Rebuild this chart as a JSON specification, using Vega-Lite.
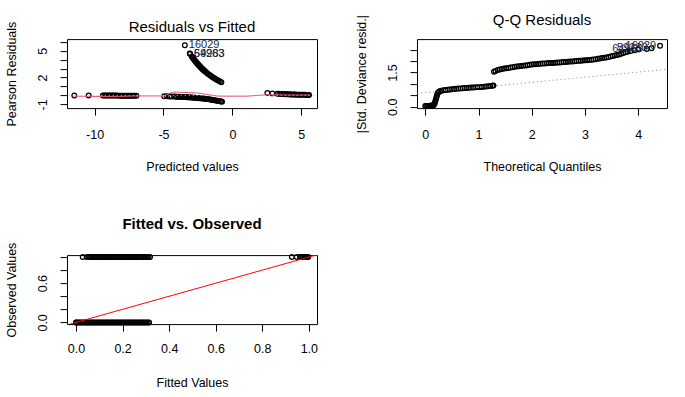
{
  "$schema": "https://vega.github.io/schema/vega-lite/v6.json",
  "background": "white",
  "padding": {"left": 4, "top": 12.1, "right": 5, "bottom": 5},
  "columns": 2,
  "bounds": "flush",
  "spacing": {"row": 147, "column": 100},
  "datasets": {
    "rf": [
      {"x": -11.47, "y": -0.003}, {"x": -10.43, "y": -0.005}, {"x": -9.4, "y": -0.009}, {"x": -9.3, "y": -0.01}, {"x": -9.2, "y": -0.01}, {"x": -9.1, "y": -0.011}, {"x": -9.0, "y": -0.011}, {"x": -8.9, "y": -0.012}, {"x": -8.8, "y": -0.012}, {"x": -8.7, "y": -0.013}, {"x": -8.6, "y": -0.014}, {"x": -8.5, "y": -0.014}, {"x": -8.4, "y": -0.015}, {"x": -8.3, "y": -0.016}, {"x": -8.2, "y": -0.017}, {"x": -8.1, "y": -0.017}, {"x": -8.0, "y": -0.018}, {"x": -7.9, "y": -0.019}, {"x": -7.8, "y": -0.02}, {"x": -7.7, "y": -0.021}, {"x": -7.6, "y": -0.022}, {"x": -7.5, "y": -0.024}, {"x": -7.4, "y": -0.025}, {"x": -7.3, "y": -0.026}, {"x": -7.2, "y": -0.027}, {"x": -7.1, "y": -0.029}, {"x": -6.96, "y": -0.031},
      {"x": -4.95, "y": -0.084}, {"x": -4.75, "y": -0.093}, {"x": -4.55, "y": -0.103}, {"x": -4.4, "y": -0.111}, {"x": -4.2, "y": -0.122}, {"x": -4.1, "y": -0.129}, {"x": -4.0, "y": -0.135}, {"x": -3.9, "y": -0.142}, {"x": -3.8, "y": -0.15}, {"x": -3.7, "y": -0.157}, {"x": -3.6, "y": -0.165}, {"x": -3.5, "y": -0.174}, {"x": -3.4, "y": -0.183}, {"x": -3.3, "y": -0.192}, {"x": -3.2, "y": -0.202}, {"x": -3.1, "y": -0.212}, {"x": -3.0, "y": -0.223}, {"x": -2.9, "y": -0.235}, {"x": -2.8, "y": -0.247}, {"x": -2.7, "y": -0.259}, {"x": -2.6, "y": -0.273}, {"x": -2.5, "y": -0.287}, {"x": -2.4, "y": -0.301}, {"x": -2.3, "y": -0.317}, {"x": -2.2, "y": -0.333}, {"x": -2.1, "y": -0.35}, {"x": -2.0, "y": -0.368}, {"x": -1.9, "y": -0.387}, {"x": -1.8, "y": -0.407}, {"x": -1.7, "y": -0.427}, {"x": -1.6, "y": -0.449}, {"x": -1.5, "y": -0.472}, {"x": -1.4, "y": -0.497}, {"x": -1.3, "y": -0.522}, {"x": -1.2, "y": -0.549}, {"x": -1.1, "y": -0.577}, {"x": -1.0, "y": -0.607}, {"x": -0.9, "y": -0.638}, {"x": -0.8, "y": -0.67}, {"x": -0.75, "y": -0.687},
      {"x": -3.45, "y": 5.61}, {"x": -3.09, "y": 4.69}, {"x": -3.07, "y": 4.65}, {"x": -2.95, "y": 4.37}, {"x": -2.9, "y": 4.26}, {"x": -2.85, "y": 4.16}, {"x": -2.8, "y": 4.06}, {"x": -2.75, "y": 3.96}, {"x": -2.7, "y": 3.86}, {"x": -2.65, "y": 3.77}, {"x": -2.6, "y": 3.67}, {"x": -2.55, "y": 3.58}, {"x": -2.5, "y": 3.49}, {"x": -2.45, "y": 3.4}, {"x": -2.4, "y": 3.32}, {"x": -2.35, "y": 3.24}, {"x": -2.3, "y": 3.16}, {"x": -2.25, "y": 3.08}, {"x": -2.2, "y": 3.0}, {"x": -2.15, "y": 2.93}, {"x": -2.1, "y": 2.86}, {"x": -2.05, "y": 2.79}, {"x": -2.0, "y": 2.72}, {"x": -1.9, "y": 2.59}, {"x": -1.8, "y": 2.46}, {"x": -1.7, "y": 2.34}, {"x": -1.6, "y": 2.23}, {"x": -1.5, "y": 2.12}, {"x": -1.4, "y": 2.01}, {"x": -1.3, "y": 1.92}, {"x": -1.2, "y": 1.82}, {"x": -1.1, "y": 1.73}, {"x": -1.0, "y": 1.65}, {"x": -0.9, "y": 1.57}, {"x": -0.8, "y": 1.49},
      {"x": 2.54, "y": 0.281}, {"x": 2.9, "y": 0.235}, {"x": 3.26, "y": 0.196}, {"x": 3.4, "y": 0.183}, {"x": 3.5, "y": 0.174}, {"x": 3.6, "y": 0.165}, {"x": 3.7, "y": 0.157}, {"x": 3.8, "y": 0.15}, {"x": 3.9, "y": 0.142}, {"x": 4.0, "y": 0.135}, {"x": 4.1, "y": 0.129}, {"x": 4.2, "y": 0.122}, {"x": 4.3, "y": 0.117}, {"x": 4.4, "y": 0.111}, {"x": 4.5, "y": 0.105}, {"x": 4.6, "y": 0.1}, {"x": 4.7, "y": 0.095}, {"x": 4.8, "y": 0.091}, {"x": 4.9, "y": 0.086}, {"x": 5.0, "y": 0.082}, {"x": 5.1, "y": 0.078}, {"x": 5.2, "y": 0.074}, {"x": 5.3, "y": 0.071}, {"x": 5.4, "y": 0.067}, {"x": 5.5, "y": 0.064}, {"x": 5.56, "y": 0.062}
    ],
    "rfsmooth": [
      {"x": -11.47, "y": -0.08}, {"x": -10.43, "y": -0.09}, {"x": -9.4, "y": -0.12}, {"x": -8.2, "y": -0.11}, {"x": -7.0, "y": -0.05}, {"x": -4.95, "y": -0.05}, {"x": -4.6, "y": 0.2}, {"x": -4.3, "y": 0.38}, {"x": -4.0, "y": 0.37}, {"x": -3.5, "y": 0.34}, {"x": -3.0, "y": 0.31}, {"x": -2.5, "y": 0.27}, {"x": -2.0, "y": 0.16}, {"x": -1.5, "y": 0.02}, {"x": -1.0, "y": -0.07}, {"x": 0.0, "y": -0.08}, {"x": 1.0, "y": -0.08}, {"x": 1.5, "y": -0.03}, {"x": 2.0, "y": 0.03}, {"x": 2.54, "y": 0.08}, {"x": 3.5, "y": 0.07}, {"x": 4.5, "y": 0.06}, {"x": 5.56, "y": 0.06}
    ],
    "rfzero": [{"x": -20, "y": 0}, {"x": 20, "y": 0}],
    "rflab": [
      {"x": -3.45, "y": 5.61, "t": "16029"}, {"x": -3.09, "y": 4.69, "t": "64963"}, {"x": -3.07, "y": 4.65, "t": "59283"}
    ],
    "qq": [
      {"x": 0, "y": 0.03}, {"x": 0.02, "y": 0.03}, {"x": 0.04, "y": 0.04}, {"x": 0.06, "y": 0.04}, {"x": 0.08, "y": 0.05}, {"x": 0.1, "y": 0.05}, {"x": 0.12, "y": 0.06}, {"x": 0.14, "y": 0.06}, {"x": 0.16, "y": 0.08}, {"x": 0.17, "y": 0.12}, {"x": 0.18, "y": 0.18}, {"x": 0.19, "y": 0.26}, {"x": 0.2, "y": 0.34}, {"x": 0.21, "y": 0.42}, {"x": 0.22, "y": 0.5}, {"x": 0.23, "y": 0.57}, {"x": 0.24, "y": 0.62}, {"x": 0.26, "y": 0.66}, {"x": 0.28, "y": 0.69}, {"x": 0.3, "y": 0.7}, {"x": 0.34, "y": 0.72}, {"x": 0.38, "y": 0.73}, {"x": 0.42, "y": 0.75}, {"x": 0.46, "y": 0.76}, {"x": 0.5, "y": 0.77}, {"x": 0.54, "y": 0.78}, {"x": 0.58, "y": 0.79}, {"x": 0.62, "y": 0.8}, {"x": 0.66, "y": 0.8}, {"x": 0.7, "y": 0.81}, {"x": 0.74, "y": 0.82}, {"x": 0.78, "y": 0.82}, {"x": 0.82, "y": 0.83}, {"x": 0.86, "y": 0.84}, {"x": 0.9, "y": 0.84}, {"x": 0.94, "y": 0.85}, {"x": 0.98, "y": 0.86}, {"x": 1.02, "y": 0.86}, {"x": 1.06, "y": 0.87}, {"x": 1.1, "y": 0.88}, {"x": 1.14, "y": 0.89}, {"x": 1.18, "y": 0.9}, {"x": 1.22, "y": 0.91}, {"x": 1.26, "y": 0.92}, {"x": 1.28, "y": 0.93},
      {"x": 1.29, "y": 1.53}, {"x": 1.32, "y": 1.57}, {"x": 1.36, "y": 1.61}, {"x": 1.4, "y": 1.63}, {"x": 1.44, "y": 1.65}, {"x": 1.48, "y": 1.67}, {"x": 1.52, "y": 1.69}, {"x": 1.56, "y": 1.7}, {"x": 1.6, "y": 1.72}, {"x": 1.64, "y": 1.73}, {"x": 1.68, "y": 1.75}, {"x": 1.72, "y": 1.76}, {"x": 1.76, "y": 1.77}, {"x": 1.8, "y": 1.78}, {"x": 1.84, "y": 1.8}, {"x": 1.88, "y": 1.81}, {"x": 1.92, "y": 1.82}, {"x": 1.96, "y": 1.84}, {"x": 2.0, "y": 1.85}, {"x": 2.04, "y": 1.86}, {"x": 2.08, "y": 1.86}, {"x": 2.12, "y": 1.87}, {"x": 2.16, "y": 1.88}, {"x": 2.2, "y": 1.89}, {"x": 2.24, "y": 1.89}, {"x": 2.28, "y": 1.9}, {"x": 2.32, "y": 1.91}, {"x": 2.36, "y": 1.91}, {"x": 2.4, "y": 1.92}, {"x": 2.44, "y": 1.93}, {"x": 2.48, "y": 1.94}, {"x": 2.52, "y": 1.94}, {"x": 2.56, "y": 1.95}, {"x": 2.6, "y": 1.96}, {"x": 2.64, "y": 1.96}, {"x": 2.68, "y": 1.97}, {"x": 2.72, "y": 1.98}, {"x": 2.76, "y": 1.98}, {"x": 2.8, "y": 1.99}, {"x": 2.84, "y": 2.0}, {"x": 2.88, "y": 2.01}, {"x": 2.92, "y": 2.01}, {"x": 2.96, "y": 2.02}, {"x": 3.0, "y": 2.03}, {"x": 3.04, "y": 2.04}, {"x": 3.08, "y": 2.05}, {"x": 3.12, "y": 2.06}, {"x": 3.16, "y": 2.07}, {"x": 3.2, "y": 2.08}, {"x": 3.24, "y": 2.1}, {"x": 3.28, "y": 2.11}, {"x": 3.32, "y": 2.13}, {"x": 3.36, "y": 2.14}, {"x": 3.4, "y": 2.16}, {"x": 3.44, "y": 2.18}, {"x": 3.48, "y": 2.2}, {"x": 3.52, "y": 2.22}, {"x": 3.56, "y": 2.24}, {"x": 3.6, "y": 2.26}, {"x": 3.64, "y": 2.29}, {"x": 3.68, "y": 2.32}, {"x": 3.72, "y": 2.35}, {"x": 3.76, "y": 2.38}, {"x": 3.8, "y": 2.41}, {"x": 3.86, "y": 2.44}, {"x": 3.93, "y": 2.47}, {"x": 4.0, "y": 2.5}, {"x": 4.16, "y": 2.53}, {"x": 4.25, "y": 2.56}, {"x": 4.41, "y": 2.67}
    ],
    "qqline": [{"x": -0.3, "y": 0.555}, {"x": 4.7, "y": 1.674}],
    "qqlab": [
      {"x": 4.16, "y": 2.53, "t": "64963"}, {"x": 4.25, "y": 2.56, "t": "59283"}, {"x": 4.41, "y": 2.67, "t": "16029"}
    ],
    "fo": [
      {"x": 0.0, "y": 0}, {"x": 0.002, "y": 0}, {"x": 0.008, "y": 0}, {"x": 0.014, "y": 0}, {"x": 0.02, "y": 0}, {"x": 0.026, "y": 0}, {"x": 0.032, "y": 0}, {"x": 0.038, "y": 0}, {"x": 0.044, "y": 0}, {"x": 0.05, "y": 0}, {"x": 0.056, "y": 0}, {"x": 0.062, "y": 0}, {"x": 0.068, "y": 0}, {"x": 0.074, "y": 0}, {"x": 0.08, "y": 0}, {"x": 0.086, "y": 0}, {"x": 0.092, "y": 0}, {"x": 0.098, "y": 0}, {"x": 0.104, "y": 0}, {"x": 0.11, "y": 0}, {"x": 0.116, "y": 0}, {"x": 0.122, "y": 0}, {"x": 0.128, "y": 0}, {"x": 0.134, "y": 0}, {"x": 0.14, "y": 0}, {"x": 0.146, "y": 0}, {"x": 0.152, "y": 0}, {"x": 0.158, "y": 0}, {"x": 0.164, "y": 0}, {"x": 0.17, "y": 0}, {"x": 0.176, "y": 0}, {"x": 0.182, "y": 0}, {"x": 0.188, "y": 0}, {"x": 0.194, "y": 0}, {"x": 0.2, "y": 0}, {"x": 0.206, "y": 0}, {"x": 0.212, "y": 0}, {"x": 0.218, "y": 0}, {"x": 0.224, "y": 0}, {"x": 0.23, "y": 0}, {"x": 0.236, "y": 0}, {"x": 0.242, "y": 0}, {"x": 0.248, "y": 0}, {"x": 0.254, "y": 0}, {"x": 0.26, "y": 0}, {"x": 0.266, "y": 0}, {"x": 0.272, "y": 0}, {"x": 0.278, "y": 0}, {"x": 0.284, "y": 0}, {"x": 0.29, "y": 0}, {"x": 0.296, "y": 0}, {"x": 0.302, "y": 0}, {"x": 0.308, "y": 0}, {"x": 0.314, "y": 0},
      {"x": 0.029, "y": 1}, {"x": 0.046, "y": 1}, {"x": 0.054, "y": 1}, {"x": 0.06, "y": 1}, {"x": 0.066, "y": 1}, {"x": 0.072, "y": 1}, {"x": 0.078, "y": 1}, {"x": 0.084, "y": 1}, {"x": 0.09, "y": 1}, {"x": 0.096, "y": 1}, {"x": 0.102, "y": 1}, {"x": 0.108, "y": 1}, {"x": 0.114, "y": 1}, {"x": 0.12, "y": 1}, {"x": 0.126, "y": 1}, {"x": 0.132, "y": 1}, {"x": 0.138, "y": 1}, {"x": 0.144, "y": 1}, {"x": 0.15, "y": 1}, {"x": 0.156, "y": 1}, {"x": 0.162, "y": 1}, {"x": 0.168, "y": 1}, {"x": 0.174, "y": 1}, {"x": 0.18, "y": 1}, {"x": 0.186, "y": 1}, {"x": 0.192, "y": 1}, {"x": 0.198, "y": 1}, {"x": 0.204, "y": 1}, {"x": 0.21, "y": 1}, {"x": 0.216, "y": 1}, {"x": 0.222, "y": 1}, {"x": 0.228, "y": 1}, {"x": 0.234, "y": 1}, {"x": 0.24, "y": 1}, {"x": 0.246, "y": 1}, {"x": 0.252, "y": 1}, {"x": 0.258, "y": 1}, {"x": 0.264, "y": 1}, {"x": 0.27, "y": 1}, {"x": 0.276, "y": 1}, {"x": 0.282, "y": 1}, {"x": 0.288, "y": 1}, {"x": 0.294, "y": 1}, {"x": 0.3, "y": 1}, {"x": 0.306, "y": 1}, {"x": 0.312, "y": 1}, {"x": 0.318, "y": 1},
      {"x": 0.927, "y": 1}, {"x": 0.948, "y": 1}, {"x": 0.962, "y": 1}, {"x": 0.967, "y": 1}, {"x": 0.972, "y": 1}, {"x": 0.977, "y": 1}, {"x": 0.982, "y": 1}, {"x": 0.986, "y": 1}, {"x": 0.99, "y": 1}, {"x": 0.994, "y": 1}, {"x": 0.997, "y": 1}
    ],
    "foline": [{"x": -0.2, "y": -0.2}, {"x": 1.2, "y": 1.2}]
  },
  "concat": [
    {
      "width": 250, "height": 69,
      "title": {"text": "Residuals vs Fitted", "dy": 20},
      "encoding": {
        "x": {"field": "x", "type": "quantitative", "scale": {"domain": [-12.0, 6.14], "nice": false, "zero": false},
              "axis": {"values": [-10, -5, 0, 5], "labelExpr": "'' + datum.value", "title": "Predicted values"}},
        "y": {"field": "y", "type": "quantitative", "scale": {"domain": [-1.41, 6.3], "nice": false, "zero": false},
              "axis": {"values": [-1, 0, 1, 2, 3, 4, 5, 6], "labelExpr": "(datum.value == -1 || datum.value == 2 || datum.value == 5) ? '' + datum.value : ''", "title": "Pearson Residuals"}}
      },
      "layer": [
        {"data": {"name": "rf"}, "mark": {"type": "point", "shape": "circle", "filled": false, "size": 22, "color": "black", "strokeWidth": 1.3, "opacity": 1}},
        {"data": {"name": "rfsmooth"}, "mark": {"type": "line", "color": "#DF536B", "strokeWidth": 1}},
        {"data": {"name": "rfzero"}, "mark": {"type": "line", "color": "#BEBEBE", "strokeWidth": 1, "strokeDash": [1, 3], "clip": true}},
        {"data": {"name": "rflab"}, "mark": {"type": "text", "align": "left", "baseline": "middle", "dx": 4, "fontSize": 11, "color": "#1a2a44"}, "encoding": {"text": {"field": "t"}}}
      ]
    },
    {
      "width": 250, "height": 69,
      "title": {"text": "Q-Q Residuals", "dy": 20},
      "encoding": {
        "x": {"field": "x", "type": "quantitative", "scale": {"domain": [-0.156, 4.54], "nice": false, "zero": false},
              "axis": {"values": [0, 1, 2, 3, 4], "labelExpr": "'' + datum.value", "title": "Theoretical Quantiles"}},
        "y": {"field": "y", "type": "quantitative", "scale": {"domain": [-0.057, 2.96], "nice": false, "zero": false},
              "axis": {"values": [0, 0.5, 1, 1.5, 2, 2.5], "labelExpr": "datum.value == 0 ? '0.0' : (datum.value == 1.5 ? '1.5' : '')", "title": "|Std. Deviance resid.|"}}
      },
      "layer": [
        {"data": {"name": "qq"}, "mark": {"type": "point", "shape": "circle", "filled": false, "size": 22, "color": "black", "strokeWidth": 1.3, "opacity": 1}},
        {"data": {"name": "qqline"}, "mark": {"type": "line", "color": "#7F7F7F", "strokeWidth": 1, "strokeDash": [1, 3], "clip": true}},
        {"data": {"name": "qqlab"}, "mark": {"type": "text", "align": "right", "baseline": "middle", "dx": -4, "fontSize": 11, "color": "#1a2a44"}, "encoding": {"text": {"field": "t"}}}
      ]
    },
    {
      "width": 250, "height": 69,
      "title": {"text": "Fitted vs. Observed", "fontWeight": "bold", "offset": 26, "dy": 15.7},
      "encoding": {
        "x": {"field": "x", "type": "quantitative", "scale": {"domain": [-0.0386, 1.035], "nice": false, "zero": false},
              "axis": {"values": [0, 0.2, 0.4, 0.6, 0.8, 1], "format": ".1f", "title": "Fitted Values", "labelPadding": 11.3, "titlePadding": 21.5}},
        "y": {"field": "y", "type": "quantitative", "scale": {"domain": [-0.026, 1.03], "nice": false, "zero": false},
              "axis": {"values": [0, 0.2, 0.4, 0.6, 0.8, 1], "labelExpr": "datum.value == 0 ? '0.0' : (datum.value == 0.6 ? '0.6' : '')", "title": "Observed Values"}}
      },
      "layer": [
        {"data": {"name": "fo"}, "mark": {"type": "point", "shape": "circle", "filled": false, "size": 22, "color": "black", "strokeWidth": 1.3, "opacity": 1}},
        {"data": {"name": "foline"}, "mark": {"type": "line", "color": "#FF0000", "strokeWidth": 1, "clip": true}}
      ]
    }
  ],
  "config": {
    "font": "Liberation Sans",
    "view": {"stroke": "black", "strokeWidth": 1},
    "axis": {"domain": false, "grid": false, "tickColor": "black", "tickSize": 7, "tickWidth": 1,
             "labelColor": "black", "labelFont": "Liberation Sans", "labelFontSize": 12.5,
             "titleFont": "Liberation Sans", "titleFontSize": 12.5, "titleFontWeight": "normal", "titleColor": "black",
             "labelOverlap": false, "labelFlush": false, "titleLimit": 400, "labelLimit": 200},
    "axisX": {"labelPadding": 13, "titlePadding": 19.5},
    "axisY": {"labelAngle": -90, "labelAlign": "center", "labelBaseline": "alphabetic", "labelPadding": 13.7, "titlePadding": 18},
    "title": {"font": "Liberation Sans", "fontSize": 15, "fontWeight": "normal", "color": "black", "anchor": "middle", "baseline": "alphabetic", "frame": "group", "offset": 6}
  }
}
